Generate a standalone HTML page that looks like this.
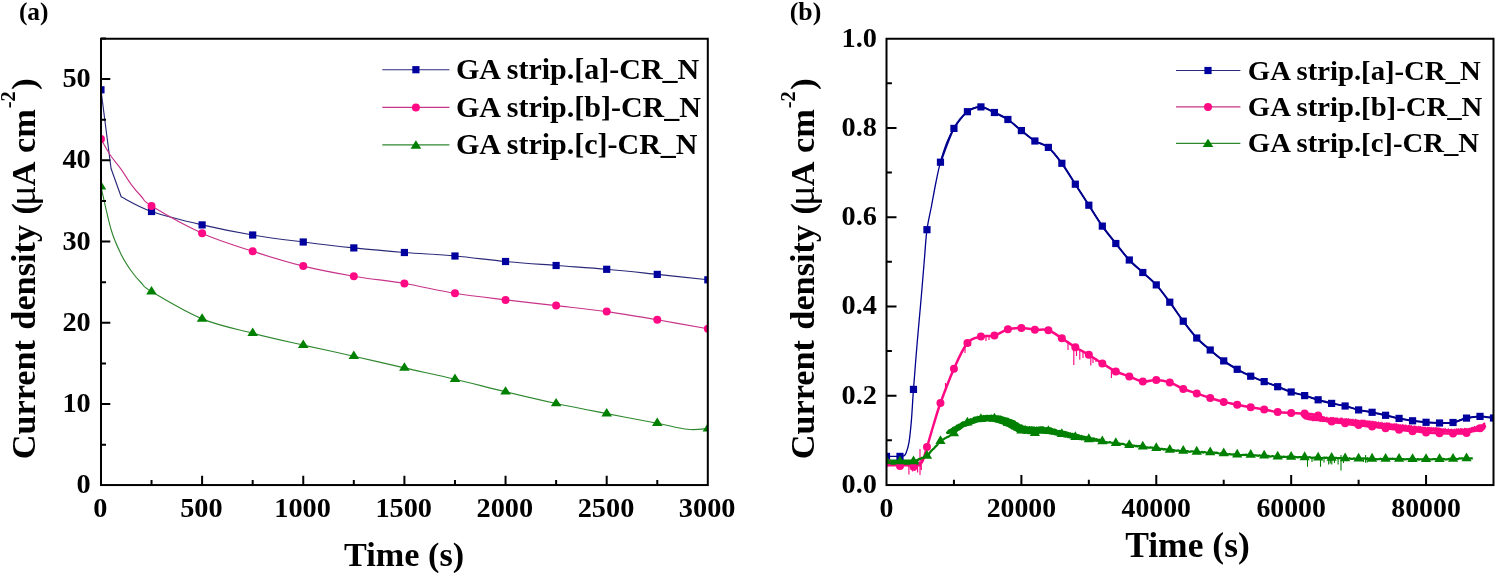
<!DOCTYPE html>
<html><head><meta charset="utf-8"><title>Current density vs time</title>
<style>html,body{margin:0;padding:0;background:#fff;}body{width:1496px;height:573px;overflow:hidden;}svg{display:block;will-change:transform;}text{font-family:"Liberation Serif",serif;font-weight:bold;fill:#000;}</style>
</head><body>
<svg width="1496" height="573" viewBox="0 0 1496 573">
<rect width="1496" height="573" fill="#fff"/>
<defs>
<clipPath id="ca"><rect x="101" y="38.75" width="606.8" height="446.3"/></clipPath>
<clipPath id="cb"><rect x="886.5" y="38.75" width="607" height="446.3"/></clipPath>
</defs>
<g clip-path="url(#ca)">
<path d="M100.95,89.8L111.06,168.5L121.18,196.8C126.24,199.25 138.04,206.82 151.53,211.5C165.01,216.18 185.24,220.98 202.1,224.9C218.96,228.82 235.82,232.15 252.68,235C269.53,237.85 286.39,239.85 303.25,242C320.11,244.15 336.97,246.15 353.82,247.9C370.68,249.65 387.54,251.15 404.4,252.5C421.26,253.85 438.12,254.5 454.97,256C471.83,257.5 488.69,259.92 505.55,261.5C522.41,263.08 539.27,264.2 556.12,265.5C572.98,266.8 589.84,267.82 606.7,269.3C623.56,270.78 640.42,272.65 657.28,274.4C674.13,276.15 699.42,278.9 707.85,279.8" fill="none" stroke="#2a2a7a" stroke-width="1.15"/>
<path d="M100.95,138.9C102.47,141.55 106.68,149.73 110.05,154.8C113.43,159.87 117.64,164.33 121.18,169.3C124.72,174.27 127.92,180.07 131.3,184.6C134.67,189.13 138.04,192.93 141.41,196.5C144.78,200.07 141.41,199.88 151.53,206C161.64,212.12 185.24,225.65 202.1,233.2C218.96,240.75 235.82,245.82 252.68,251.3C269.53,256.78 286.39,261.95 303.25,266.1C320.11,270.25 336.97,273.3 353.82,276.2C370.68,279.1 387.54,280.65 404.4,283.5C421.26,286.35 438.12,290.57 454.97,293.3C471.83,296.03 488.69,297.85 505.55,299.9C522.41,301.95 539.27,303.65 556.12,305.6C572.98,307.55 589.84,309.23 606.7,311.6C623.56,313.97 640.42,316.93 657.28,319.8C674.13,322.67 699.42,327.3 707.85,328.8" fill="none" stroke="#c8348a" stroke-width="1.15"/>
<path d="M100.95,186.6C102.64,193.75 107.69,218.18 111.06,229.5C114.44,240.82 117.81,247.58 121.18,254.5C124.55,261.42 127.92,266.25 131.3,271C134.67,275.75 138.04,279.55 141.41,283C144.78,286.45 141.41,285.72 151.53,291.7C161.64,297.68 185.24,311.98 202.1,318.9C218.96,325.82 235.82,328.83 252.68,333.2C269.53,337.57 286.39,341.27 303.25,345.1C320.11,348.93 336.97,352.4 353.82,356.2C370.68,360 387.54,364.07 404.4,367.9C421.26,371.73 438.12,375.22 454.97,379.2C471.83,383.18 488.69,387.75 505.55,391.8C522.41,395.85 539.27,399.87 556.12,403.5C572.98,407.13 589.84,410.32 606.7,413.6C623.56,416.88 643.79,420.58 657.28,423.2C670.76,425.82 679.19,428.4 687.62,429.3C696.05,430.2 704.48,428.72 707.85,428.6" fill="none" stroke="#2f882f" stroke-width="1.15"/>
<rect x="97.35" y="86.2" width="7.2" height="7.2" fill="#00009E"/>
<rect x="147.93" y="207.9" width="7.2" height="7.2" fill="#00009E"/>
<rect x="198.5" y="221.3" width="7.2" height="7.2" fill="#00009E"/>
<rect x="249.08" y="231.4" width="7.2" height="7.2" fill="#00009E"/>
<rect x="299.65" y="238.4" width="7.2" height="7.2" fill="#00009E"/>
<rect x="350.22" y="244.3" width="7.2" height="7.2" fill="#00009E"/>
<rect x="400.8" y="248.9" width="7.2" height="7.2" fill="#00009E"/>
<rect x="451.37" y="252.4" width="7.2" height="7.2" fill="#00009E"/>
<rect x="501.95" y="257.9" width="7.2" height="7.2" fill="#00009E"/>
<rect x="552.52" y="261.9" width="7.2" height="7.2" fill="#00009E"/>
<rect x="603.1" y="265.7" width="7.2" height="7.2" fill="#00009E"/>
<rect x="653.68" y="270.8" width="7.2" height="7.2" fill="#00009E"/>
<rect x="704.25" y="276.2" width="7.2" height="7.2" fill="#00009E"/>
<circle cx="100.95" cy="138.9" r="4" fill="#FF0A84"/>
<circle cx="151.53" cy="206" r="4" fill="#FF0A84"/>
<circle cx="202.1" cy="233.2" r="4" fill="#FF0A84"/>
<circle cx="252.68" cy="251.3" r="4" fill="#FF0A84"/>
<circle cx="303.25" cy="266.1" r="4" fill="#FF0A84"/>
<circle cx="353.82" cy="276.2" r="4" fill="#FF0A84"/>
<circle cx="404.4" cy="283.5" r="4" fill="#FF0A84"/>
<circle cx="454.97" cy="293.3" r="4" fill="#FF0A84"/>
<circle cx="505.55" cy="299.9" r="4" fill="#FF0A84"/>
<circle cx="556.12" cy="305.6" r="4" fill="#FF0A84"/>
<circle cx="606.7" cy="311.6" r="4" fill="#FF0A84"/>
<circle cx="657.28" cy="319.8" r="4" fill="#FF0A84"/>
<circle cx="707.85" cy="328.8" r="4" fill="#FF0A84"/>
<path d="M100.95,181 L106.25,189.4 L95.65,189.4 Z" fill="#008000"/>
<path d="M151.53,286.1 L156.83,294.5 L146.22,294.5 Z" fill="#008000"/>
<path d="M202.1,313.3 L207.4,321.7 L196.8,321.7 Z" fill="#008000"/>
<path d="M252.68,327.6 L257.98,336 L247.38,336 Z" fill="#008000"/>
<path d="M303.25,339.5 L308.55,347.9 L297.95,347.9 Z" fill="#008000"/>
<path d="M353.82,350.6 L359.12,359 L348.52,359 Z" fill="#008000"/>
<path d="M404.4,362.3 L409.7,370.7 L399.1,370.7 Z" fill="#008000"/>
<path d="M454.97,373.6 L460.27,382 L449.67,382 Z" fill="#008000"/>
<path d="M505.55,386.2 L510.85,394.6 L500.25,394.6 Z" fill="#008000"/>
<path d="M556.12,397.9 L561.42,406.3 L550.83,406.3 Z" fill="#008000"/>
<path d="M606.7,408 L612,416.4 L601.4,416.4 Z" fill="#008000"/>
<path d="M657.28,417.6 L662.58,426 L651.98,426 Z" fill="#008000"/>
<path d="M707.85,423 L713.15,431.4 L702.55,431.4 Z" fill="#008000"/>
</g>
<rect x="101" y="38.75" width="606.8" height="446.3" fill="none" stroke="#000" stroke-width="2"/><path d="M202.1,485.05 v-9.3M303.25,485.05 v-9.3M404.4,485.05 v-9.3M505.55,485.05 v-9.3M606.7,485.05 v-9.3M151.53,485.05 v-5.0M252.68,485.05 v-5.0M353.82,485.05 v-5.0M454.97,485.05 v-5.0M556.12,485.05 v-5.0M657.28,485.05 v-5.0M101,404.05 h9.3M101,322.79 h9.3M101,241.54 h9.3M101,160.28 h9.3M101,79.03 h9.3M101,444.67 h5.0M101,363.42 h5.0M101,282.16 h5.0M101,200.91 h5.0M101,119.65 h5.0M101,38.4 h5.0" fill="none" stroke="#000" stroke-width="2"/>
<text x="90.7" y="493.3" font-size="28.3" text-anchor="end">0</text>
<text x="90.7" y="412.05" font-size="28.3" text-anchor="end">10</text>
<text x="90.7" y="330.79" font-size="28.3" text-anchor="end">20</text>
<text x="90.7" y="249.54" font-size="28.3" text-anchor="end">30</text>
<text x="90.7" y="168.28" font-size="28.3" text-anchor="end">40</text>
<text x="90.7" y="87.03" font-size="28.3" text-anchor="end">50</text>
<text x="100.25" y="516.6" font-size="28.3" text-anchor="middle">0</text>
<text x="201.4" y="516.6" font-size="28.3" text-anchor="middle">500</text>
<text x="302.55" y="516.6" font-size="28.3" text-anchor="middle">1000</text>
<text x="403.7" y="516.6" font-size="28.3" text-anchor="middle">1500</text>
<text x="504.85" y="516.6" font-size="28.3" text-anchor="middle">2000</text>
<text x="606" y="516.6" font-size="28.3" text-anchor="middle">2500</text>
<text x="707.15" y="516.6" font-size="28.3" text-anchor="middle">3000</text>
<text x="404.1" y="565.8" font-size="34.2" text-anchor="middle">Time (s)</text>
<text transform="translate(34.8,268.8) rotate(-90)" font-size="34.3" word-spacing="1.7" text-anchor="middle">Current density (<tspan font-weight="normal" font-size="38" dx="-2.5">μ</tspan><tspan dx="-0.9">A cm</tspan><tspan font-size="20.5" dy="-19.4" dx="0.9">-2</tspan><tspan dy="19.4" dx="1.6">)</tspan></text>
<text x="18.9" y="20.0" font-size="25.4">(a)</text>
<path d="M382.3,69.7 H449.4" stroke="#2a2a7a" stroke-width="1.15" fill="none"/><rect x="412.3" y="66.1" width="7.2" height="7.2" fill="#00009E"/><text transform="translate(455.9,79.2) scale(1,1)" font-size="30">GA strip.[a]-CR_N</text><path d="M382.3,107.4 H449.4" stroke="#c8348a" stroke-width="1.15" fill="none"/><circle cx="415.9" cy="107.4" r="4" fill="#FF0A84"/><text transform="translate(455.9,116.9) scale(1,1)" font-size="30">GA strip.[b]-CR_N</text><path d="M382.3,144.9 H449.4" stroke="#2f882f" stroke-width="1.15" fill="none"/><path d="M415.9,140.3 L421.2,148.7 L410.6,148.7 Z" fill="#008000"/><text transform="translate(455.9,154.4) scale(1,1)" font-size="30">GA strip.[c]-CR_N</text>
<g clip-path="url(#cb)">
<path d="M886.5,456.4C888.75,456.4 897.18,456.47 899.99,456.4C902.8,456.33 902.38,456.5 903.36,456C904.35,455.5 904.96,455.67 905.9,453.4C906.84,451.13 908.08,447.9 909,442.4C909.92,436.9 910.65,429.23 911.4,420.4C912.15,411.57 912.54,401.97 913.48,389.4C914.41,376.83 915.75,359.9 917,345C918.25,330.1 919.75,314.5 921,300C922.25,285.5 923.51,269.72 924.5,258C925.49,246.28 925.8,238.37 926.97,229.7C928.13,221.03 929.99,213.95 931.5,206C933.01,198.05 934.51,189.3 936,182C937.49,174.7 938.62,168.87 940.46,162.2C942.29,155.53 944.75,147.63 947,142C949.25,136.37 950.54,133.45 953.94,128.4C957.35,123.35 962.94,115.28 967.43,111.7C971.93,108.12 976.43,106.77 980.92,106.9C985.42,107.03 989.91,110.4 994.41,112.5C998.91,114.6 1003.4,116.48 1007.9,119.5C1012.4,122.52 1016.89,127.02 1021.39,130.6C1025.89,134.18 1030.38,138.2 1034.88,141C1039.37,143.8 1043.87,143.68 1048.37,147.4C1052.86,151.12 1057.36,157.17 1061.86,163.3C1066.35,169.43 1070.85,177.22 1075.34,184.2C1079.84,191.18 1084.34,198.22 1088.83,205.2C1093.33,212.18 1097.83,219.72 1102.32,226.1C1106.82,232.48 1111.31,237.85 1115.81,243.5C1120.31,249.15 1124.8,255.17 1129.3,260C1133.8,264.83 1138.29,268.35 1142.79,272.5C1147.29,276.65 1151.78,279.95 1156.28,284.9C1160.77,289.85 1165.27,296.15 1169.77,302.2C1174.26,308.25 1178.76,315.23 1183.26,321.2C1187.75,327.17 1192.25,333.2 1196.74,338C1201.24,342.8 1205.74,346.18 1210.23,350C1214.73,353.82 1219.23,357.68 1223.72,360.9C1228.22,364.12 1232.71,366.75 1237.21,369.3C1241.71,371.85 1246.2,374.15 1250.7,376.2C1255.2,378.25 1259.69,379.85 1264.19,381.6C1268.69,383.35 1273.18,384.97 1277.68,386.7C1282.17,388.43 1286.67,390.52 1291.17,392C1295.66,393.48 1300.16,394.3 1304.66,395.6C1309.15,396.9 1313.65,398.5 1318.14,399.8C1322.64,401.1 1327.14,402.37 1331.63,403.4C1336.13,404.43 1340.63,404.92 1345.12,406C1349.62,407.08 1354.11,408.85 1358.61,409.9C1363.11,410.95 1367.6,411.4 1372.1,412.3C1376.6,413.2 1381.09,414.28 1385.59,415.3C1390.09,416.32 1394.58,417.48 1399.08,418.4C1403.57,419.32 1408.07,420.15 1412.57,420.8C1417.06,421.45 1421.56,421.93 1426.06,422.3C1430.55,422.67 1435.05,422.97 1439.54,423C1444.04,423.03 1448.54,423.32 1453.03,422.5C1457.53,421.68 1462.03,419.12 1466.52,418.1C1471.02,417.08 1475.51,416.42 1480.01,416.4C1484.51,416.38 1491.25,417.73 1493.5,418" fill="none" stroke="#00008C" stroke-width="1.3"/>
<path d="M940.46,162.2C942.7,156.57 949.45,136.82 953.94,128.4C958.44,119.98 962.94,115.28 967.43,111.7C971.93,108.12 976.43,106.77 980.92,106.9C985.42,107.03 989.91,110.4 994.41,112.5C998.91,114.6 1003.4,116.48 1007.9,119.5C1012.4,122.52 1016.89,127.02 1021.39,130.6C1025.89,134.18 1030.38,138.2 1034.88,141C1039.37,143.8 1043.87,143.68 1048.37,147.4C1052.86,151.12 1057.36,157.17 1061.86,163.3C1066.35,169.43 1070.85,177.22 1075.34,184.2C1079.84,191.18 1084.34,198.22 1088.83,205.2C1093.33,212.18 1097.83,219.72 1102.32,226.1C1106.82,232.48 1111.31,237.85 1115.81,243.5C1120.31,249.15 1124.8,255.17 1129.3,260C1133.8,264.83 1138.29,268.35 1142.79,272.5C1147.29,276.65 1151.78,279.95 1156.28,284.9C1160.77,289.85 1165.27,296.15 1169.77,302.2C1174.26,308.25 1178.76,315.23 1183.26,321.2C1187.75,327.17 1192.25,333.2 1196.74,338C1201.24,342.8 1205.74,346.18 1210.23,350C1214.73,353.82 1219.23,357.68 1223.72,360.9C1228.22,364.12 1232.71,366.75 1237.21,369.3C1241.71,371.85 1246.2,374.15 1250.7,376.2C1255.2,378.25 1259.69,379.85 1264.19,381.6C1268.69,383.35 1273.18,384.97 1277.68,386.7C1282.17,388.43 1286.67,390.52 1291.17,392C1295.66,393.48 1300.16,394.3 1304.66,395.6C1309.15,396.9 1313.65,398.5 1318.14,399.8C1322.64,401.1 1327.14,402.37 1331.63,403.4C1336.13,404.43 1340.63,404.92 1345.12,406C1349.62,407.08 1354.11,408.85 1358.61,409.9C1363.11,410.95 1367.6,411.4 1372.1,412.3C1376.6,413.2 1381.09,414.28 1385.59,415.3C1390.09,416.32 1394.58,417.48 1399.08,418.4C1403.57,419.32 1408.07,420.15 1412.57,420.8C1417.06,421.45 1421.56,421.93 1426.06,422.3C1430.55,422.67 1435.05,422.97 1439.54,423C1444.04,423.03 1448.54,423.32 1453.03,422.5C1457.53,421.68 1462.03,419.12 1466.52,418.1C1471.02,417.08 1475.51,416.42 1480.01,416.4C1484.51,416.38 1491.25,417.73 1493.5,418" fill="none" stroke="#00008C" stroke-width="2.0"/>
<path d="M886.5,464.4C888.75,464.47 895.49,464.73 899.99,464.8C904.49,464.87 909.88,465.13 913.48,464.8C917.08,464.47 919.35,465.75 921.6,462.8C923.85,459.85 924.98,453.4 926.97,447.1C928.95,440.8 931.25,432.35 933.5,425C935.75,417.65 937.05,412.38 940.46,403C943.86,393.62 949.45,378.72 953.94,368.7C958.44,358.68 962.94,348.25 967.43,342.9C971.93,337.55 976.43,337.82 980.92,336.6C985.42,335.38 989.91,336.82 994.41,335.6C998.91,334.38 1003.4,330.58 1007.9,329.3C1012.4,328.02 1016.89,327.83 1021.39,327.9C1025.89,327.97 1030.38,329.32 1034.88,329.7C1039.37,330.08 1043.87,328.77 1048.37,330.2C1052.86,331.63 1057.36,335.47 1061.86,338.3C1066.35,341.13 1070.85,344.47 1075.34,347.2C1079.84,349.93 1084.34,352 1088.83,354.7C1093.33,357.4 1097.83,360.62 1102.32,363.4C1106.82,366.18 1111.31,369.22 1115.81,371.4C1120.31,373.58 1124.8,374.8 1129.3,376.5C1133.8,378.2 1138.29,381.02 1142.79,381.6C1147.29,382.18 1151.78,379.87 1156.28,380C1160.77,380.13 1165.27,380.9 1169.77,382.4C1174.26,383.9 1178.76,387.17 1183.26,389C1187.75,390.83 1192.25,391.9 1196.74,393.4C1201.24,394.9 1205.74,396.58 1210.23,398C1214.73,399.42 1219.23,400.78 1223.72,401.9C1228.22,403.02 1232.71,403.82 1237.21,404.7C1241.71,405.58 1246.2,406.4 1250.7,407.2C1255.2,408 1259.69,408.68 1264.19,409.5C1268.69,410.32 1273.18,411.52 1277.68,412.1C1282.17,412.68 1286.67,412.75 1291.17,413C1295.66,413.25 1300.16,413.18 1304.66,413.6C1309.15,414.02 1313.65,414.18 1318.14,415.5C1322.64,416.82 1327.14,420.22 1331.63,421.5C1336.13,422.78 1340.63,422.62 1345.12,423.2C1349.62,423.78 1354.11,424.43 1358.61,425C1363.11,425.57 1367.6,426.05 1372.1,426.6C1376.6,427.15 1381.09,427.77 1385.59,428.3C1390.09,428.83 1394.58,429.32 1399.08,429.8C1403.57,430.28 1408.07,430.77 1412.57,431.2C1417.06,431.63 1421.56,432.07 1426.06,432.4C1430.55,432.73 1435.05,433 1439.54,433.2C1444.04,433.4 1448.54,433.63 1453.03,433.6C1457.53,433.57 1462.03,433.88 1466.52,433C1471.02,432.12 1476.76,429.47 1480.01,428.3C1483.26,427.13 1485,426.38 1486,426" fill="none" stroke="#FF0A84" stroke-width="2.5" stroke-linejoin="round"/>
<path d="M886.5,464.3 H921" stroke="#FF0A84" stroke-width="4.6" fill="none"/>
<path d="M1300.6,412.96L1301.3,412.44L1302,412.92L1302.7,413.23L1303.4,413.05L1304.1,413.55L1304.8,414.25L1305.5,413.79L1306.2,414.13L1306.9,413.75L1307.6,413.97L1308.3,415.1L1309,414.54L1309.7,415.36L1310.4,414.48L1311.1,415.53L1311.8,415.12L1312.5,415.15L1313.2,414.7L1313.9,415.33L1314.6,415.71L1315.3,416.08L1316,414.97L1316.7,415.72L1317.4,415.56L1318.1,415.72L1318.8,416.51L1319.5,416.46L1320.2,415.65L1320.9,416.55L1321.6,416.03L1322.3,416.25L1323,416.6L1323.7,416.45L1324.4,415.99L1325.1,417.16L1325.8,417.38L1326.5,416.51L1327.2,416.48L1327.9,417.63L1328.6,417.5L1329.3,417.72L1330,417.28L1330.7,416.65L1331.4,417.29L1332.1,417.62L1332.8,416.84L1333.5,417.01L1334.2,417.36L1334.9,417.97L1335.6,417.35L1336.3,417.46L1337,417.64L1337.7,417.37L1338.4,418.46L1339.1,417.55L1339.8,418.69L1340.5,417.55L1341.2,417.53L1341.9,417.58L1342.6,417.87L1343.3,418.8L1344,418.19L1344.7,418.4L1345.4,418.19L1346.1,418.16L1346.8,418L1347.5,418.76L1348.2,418.23L1348.9,418.33L1349.6,418.66L1350.3,419.27L1351,418.17L1351.7,419.18L1352.4,418.91L1353.1,418.3L1353.8,419.65L1354.5,419.6L1355.2,418.8L1355.9,418.72L1356.6,419.51L1357.3,419.62L1358,419.73L1358.7,419.5L1359.4,419.9L1360.1,420.18L1360.8,419.4L1361.5,419.4L1362.2,420.11L1362.9,419.32L1363.6,420.12L1364.3,419.69L1365,419.48L1365.7,420.19L1366.4,420.53L1367.1,420.38L1367.8,420.14L1368.5,420.86L1369.2,419.99L1369.9,420.98L1370.6,420.48L1371.3,421.5L1372,420.33L1372.7,420.96L1373.4,420.73L1374.1,421.57L1374.8,420.9L1375.5,421.13L1376.2,421.1L1376.9,421.93L1377.6,422.28L1378.3,421.29L1379,421.69L1379.7,422.52L1380.4,421.82L1381.1,422.72L1381.8,421.51L1382.5,422.07L1383.2,422.84L1383.9,423.08L1384.6,422.23L1385.3,423.16L1386,421.97L1386.7,422.54L1387.4,422.56L1388.1,422.18L1388.8,422.75L1389.5,422.51L1390.2,422.71L1390.9,423.65L1391.6,423.18L1392.3,423.31L1393,424.01L1393.7,423.31L1394.4,422.92L1395.1,424.09L1395.8,423.08L1396.5,423.19L1397.2,423.54L1397.9,424.51L1398.6,423.71L1399.3,424.27L1400,424.49L1400.7,423.94L1401.4,424.69L1402.1,424.6L1402.8,423.82L1403.5,424.53L1404.2,425.27L1404.9,424.36L1405.6,424.78L1406.3,424.42L1407,425.27L1407.7,425.4L1408.4,424.85L1409.1,424.97L1409.8,424.65L1410.5,425.67L1411.2,424.79L1411.9,425.54L1412.6,426.22L1413.3,426.31L1414,425.12L1414.7,425.77L1415.4,425.78L1416.1,425.81L1416.8,426.25L1417.5,426.56L1418.2,425.62L1418.9,425.94L1419.6,426.13L1420.3,425.96L1421,426.1L1421.7,427.06L1422.4,426.33L1423.1,427.32L1423.8,426.31L1424.5,426.95L1425.2,426.23L1425.9,427.29L1426.6,427.48L1427.3,426.66L1428,426.57L1428.7,427.17L1429.4,426.93L1430.1,427.09L1430.8,427.61L1431.5,426.72L1432.2,427.49L1432.9,427.2L1433.6,427.02L1434.3,427.63L1435,427.12L1435.7,427.35L1436.4,427.21L1437.1,427.28L1437.8,427.82L1438.5,427.25L1439.2,427.93L1439.9,427.34L1440.6,428.24L1441.3,427.72L1442,428.71L1442.7,428.22L1443.4,428.06L1444.1,428.93L1444.8,427.86L1445.5,427.93L1446.2,428.96L1446.9,428.9L1447.6,429.04L1448.3,428.08L1449,428.68L1449.7,429.24L1450.4,428.89L1451.1,428.78L1451.8,428.52L1452.5,429.47L1453.2,428.87L1453.9,429.5L1454.6,428.29L1455.3,429.44L1456,428.11L1456.7,428.54L1457.4,428.83L1458.1,428.15L1458.8,428.21L1459.5,429.04L1460.2,428.08L1460.9,428.35L1461.6,428.29L1462.3,428.06L1463,428.94L1463.7,428.43L1464.4,427.66L1465.1,427.74L1465.8,428.31L1466.5,427.93L1467.2,428.28L1467.9,428.35L1468.6,427.99L1469.3,428.07L1470,427.37L1470.7,427.96L1471.4,426.95L1472.1,426.68L1472.8,426.96L1473.5,426.81L1474.2,426.08L1474.9,425.97L1475.6,426.77L1476.3,425.59L1477,425.87L1477.7,425.36L1478.4,426.31L1479.1,425.74L1479.8,425.66L1480.5,425.31L1481.2,423.89L1481.9,424.64L1482.6,423.51L1483.3,422.93L1484,422.78L1484.7,422.31L1485.4,423.12L1485.4,429.09L1484.7,429.58L1484,430.04L1483.3,430.28L1482.6,430.39L1481.9,430.17L1481.2,430.8L1480.5,431.06L1479.8,431L1479.1,431.01L1478.4,431.53L1477.7,431.76L1477,431.93L1476.3,431.77L1475.6,431.89L1474.9,432.13L1474.2,432.18L1473.5,432.22L1472.8,432.08L1472.1,432.21L1471.4,432.53L1470.7,432.63L1470,432.92L1469.3,432.87L1468.6,432.7L1467.9,432.97L1467.2,432.96L1466.5,432.95L1465.8,433.08L1465.1,433.06L1464.4,433.2L1463.7,433.15L1463,432.72L1462.3,433.13L1461.6,432.77L1460.9,433.01L1460.2,432.83L1459.5,433.2L1458.8,432.94L1458.1,433.17L1457.4,433.19L1456.7,433.24L1456,433.26L1455.3,432.99L1454.6,433.27L1453.9,432.82L1453.2,433.18L1452.5,432.75L1451.8,432.96L1451.1,432.7L1450.4,432.8L1449.7,432.6L1449,432.89L1448.3,432.48L1447.6,432.71L1446.9,432.64L1446.2,432.62L1445.5,432.33L1444.8,432.73L1444.1,432.47L1443.4,432.74L1442.7,432.4L1442,432.34L1441.3,432.3L1440.6,432.32L1439.9,432.14L1439.2,432.39L1438.5,432.21L1437.8,431.97L1437.1,432.38L1436.4,432.05L1435.7,432.24L1435,431.8L1434.3,432.15L1433.6,431.87L1432.9,431.77L1432.2,431.78L1431.5,431.97L1430.8,432.15L1430.1,431.7L1429.4,432.03L1428.7,432.03L1428,432.02L1427.3,431.47L1426.6,431.39L1425.9,431.83L1425.2,431.58L1424.5,431.85L1423.8,431.71L1423.1,431.49L1422.4,431.39L1421.7,431.46L1421,431.17L1420.3,431.17L1419.6,431.42L1418.9,431.27L1418.2,431.39L1417.5,431.24L1416.8,431.24L1416.1,431.12L1415.4,430.84L1414.7,431.08L1414,430.66L1413.3,430.72L1412.6,431.04L1411.9,430.66L1411.2,430.44L1410.5,430.52L1409.8,430.44L1409.1,430.75L1408.4,430.42L1407.7,430.55L1407,430.63L1406.3,430.57L1405.6,430.6L1404.9,430.25L1404.2,430.18L1403.5,430.48L1402.8,430L1402.1,430.38L1401.4,430.31L1400.7,429.72L1400,429.86L1399.3,429.78L1398.6,430.15L1397.9,429.73L1397.2,429.93L1396.5,429.99L1395.8,429.41L1395.1,429.8L1394.4,429.54L1393.7,429.79L1393,429.32L1392.3,429.38L1391.6,429.14L1390.9,429.55L1390.2,429.23L1389.5,429.54L1388.8,429.47L1388.1,429.01L1387.4,428.89L1386.7,428.95L1386,429.07L1385.3,429.06L1384.6,428.67L1383.9,429.06L1383.2,428.88L1382.5,428.92L1381.8,428.36L1381.1,428.35L1380.4,428.34L1379.7,428.24L1379,428.49L1378.3,428.17L1377.6,428.27L1376.9,428.1L1376.2,427.99L1375.5,428.3L1374.8,428.33L1374.1,427.99L1373.4,428.11L1372.7,427.98L1372,427.72L1371.3,427.59L1370.6,427.8L1369.9,427.59L1369.2,427.58L1368.5,427.41L1367.8,427.74L1367.1,427.25L1366.4,427.58L1365.7,427.57L1365,427.12L1364.3,427.24L1363.6,427.05L1362.9,427.08L1362.2,426.77L1361.5,427.03L1360.8,426.67L1360.1,426.92L1359.4,426.61L1358.7,426.44L1358,426.61L1357.3,426.62L1356.6,426.7L1355.9,426.35L1355.2,426.01L1354.5,426.43L1353.8,426.24L1353.1,425.89L1352.4,425.91L1351.7,426L1351,425.38L1350.3,425.79L1349.6,425.74L1348.9,425.31L1348.2,425.14L1347.5,425.39L1346.8,425.08L1346.1,425.26L1345.4,424.62L1344.7,424.71L1344,424.64L1343.3,424.74L1342.6,424.54L1341.9,424.24L1341.2,424.21L1340.5,424.02L1339.8,424.08L1339.1,424.26L1338.4,423.91L1337.7,423.64L1337,423.52L1336.3,423.66L1335.6,423.62L1334.9,423.72L1334.2,423.21L1333.5,423.22L1332.8,423.39L1332.1,422.91L1331.4,423.11L1330.7,423.02L1330,422.93L1329.3,422.98L1328.6,422.72L1327.9,422.79L1327.2,422.41L1326.5,422.41L1325.8,422.17L1325.1,422.12L1324.4,421.93L1323.7,421.95L1323,421.92L1322.3,422.23L1321.6,421.77L1320.9,422.01L1320.2,421.95L1319.5,421.82L1318.8,421.23L1318.1,421.35L1317.4,421.18L1316.7,421.3L1316,420.97L1315.3,421.19L1314.6,420.97L1313.9,421.3L1313.2,421.19L1312.5,421.21L1311.8,420.65L1311.1,420.63L1310.4,420.56L1309.7,420.59L1309,420.63L1308.3,419.96L1307.6,420.35L1306.9,420.11L1306.2,419.67L1305.5,419.51L1304.8,419.42L1304.1,419.24L1303.4,418.5L1302.7,417.99L1302,417.28L1301.3,416.11L1300.6,415.59 Z" fill="#FF0A84"/>
<path d="M908.9,465 V474.6M912.7,466 V471.5M914.8,466 V471M917.6,466 V472.5M920,449 V474.9M921.3,458 V470M1068,343 V350M1073.8,346 V365M1076.5,348 V356M1079.8,350 V359.7M1083,352 V358M1090.8,356 V365.5M1093,357 V363M1096,358 V362M1111.4,369 V378M945.5,383 V392M965,347 V353M970.5,340 V346M986,336 V341M989,336 V340" stroke="#FF0A84" stroke-width="1.15" fill="none"/>
<path d="M886.5,460.99L887.6,461.23L888.7,461.09L889.8,460.86L890.9,461.01L892,461.02L893.1,461.74L894.2,461.53L895.3,461.75L896.4,461.12L897.5,461.7L898.6,461.12L899.7,461.52L900.8,461.62L901.9,461.37L903,461.84L904.1,461.55L905.2,461.57L906.3,461.84L907.4,461.14L908.5,461.94L909.6,461.62L910.7,461.4L911.8,461.77L912.9,461.29L914,461.73L915.1,460.92L916.2,460.28L917.3,460.21L918.4,459.48L919.5,458.8L920.6,458.87L921.7,457.8L922.8,458.06L923.9,457.11L925,457.01L926.1,456.88L927.2,455.92L928.3,454.77L929.4,453.24L930.5,451.75L931.6,450.56L932.7,449.45L933.8,448.66L934.9,447.28L936,446.13L937.1,445.26L938.2,443.36L939.3,442.23L940.4,441.4L941.5,440.17L942.6,439.51L943.7,439.19L944.8,438.33L945.9,437.92L947,437.17L948.1,436.85L949.2,436.22L950.3,435.24L951.4,434.98L952.5,434.21L953.6,433.27L954.7,433.19L955.8,431.7L956.9,430.74L958,429.82L959.1,429.43L960.2,428.77L961.3,427.82L962.4,426.6L963.5,425.61L964.6,424.51L965.7,424.21L966.8,423.26L967.9,422.44L969,422.42L970.1,421.96L971.2,422.12L972.3,421.65L973.4,420.93L974.5,421.23L975.6,420.17L976.7,420.32L977.8,419.93L978.9,419.49L980,419.04L981.1,419.44L982.2,418.71L983.3,419.16L984.4,419.47L985.5,418.71L986.6,418.72L987.7,419.05L988.8,418.91L989.9,418.99L991,419.11L992.1,418.49L993.2,418.57L994.3,418.52L995.4,418.62L996.5,419.75L997.6,420.02L998.7,420.32L999.8,420.05L1000.9,421.17L1002,421.45L1003.1,421.57L1004.2,422.18L1005.3,422.29L1006.4,422.45L1007.5,422.71L1008.6,423.35L1009.7,423.79L1010.8,424.66L1011.9,425.65L1013,426.21L1014.1,426.96L1015.2,427.45L1016.3,427.66L1017.4,428.53L1018.5,429.04L1019.6,429.96L1020.7,430.34L1021.8,430.56L1022.9,431.11L1024,431.6L1025.1,431.13L1026.2,431.93L1027.3,431.36L1028.4,431.78L1029.5,431.97L1030.6,432.63L1031.7,433.01L1032.8,433.04L1033.9,432.86L1035,433.52L1036.1,432.86L1037.2,432.62L1038.3,433.06L1039.4,432.65L1040.5,432.54L1041.6,432.35L1042.7,432.47L1043.8,431.85L1044.9,432.02L1046,431.73L1047.1,431.71L1048.2,431.17L1049.3,431.61L1050.4,431.72L1051.5,431.72L1052.6,431.88L1053.7,432.5L1054.8,432.25L1055.9,433.25L1057,432.8L1058.1,432.94L1059.2,433.26L1060.3,434.24L1061.4,433.96L1062.5,434.02L1063.6,434.16L1064.7,434.42L1065.8,435.25L1066.9,435.44L1068,435.74L1069.1,436.02L1070.2,435.67L1071.3,436.38L1072.4,436.42L1073.5,437.08L1074.6,437.32L1075.7,437.61L1076.8,437.05L1077.9,437.95L1079,438.17L1080.1,438.38L1081.2,437.8L1082.3,438.07L1083.4,438.16L1084.5,438.27L1085.6,439.19L1086.7,439.33L1087.8,439.35L1088.9,439.7L1090,439.71L1091.1,439.58L1092.2,439.59L1093.3,439.77L1094.4,440.54L1095.5,440.22L1096.6,440.5L1097.7,440.78L1098.8,440.59L1099.9,440.99L1101,441.19L1102.1,441.76L1103.2,441.59L1104.3,441.69L1105.4,442.41L1106.5,442.13L1107.6,442.58L1108.7,442.51L1109.8,442.12L1110.9,442.6L1112,442.76L1113.1,443.2L1114.2,442.96L1115.3,443.42L1116.4,443.42L1117.5,443.28L1118.6,444.02L1119.7,443.48L1120.8,444.29L1121.9,443.86L1123,443.86L1124.1,444.2L1125.2,444.86L1126.3,445.21L1127.4,444.49L1128.5,445.08L1129.6,445.23L1130.7,445.62L1131.8,445.19L1132.9,445.6L1134,445.59L1135.1,446.14L1136.2,445.75L1137.3,446.49L1138.4,446.02L1139.5,446.08L1140.6,446.64L1141.7,446.58L1142.8,446.35L1143.9,446.95L1145,446.57L1146.1,447.33L1147.2,447.37L1148.3,447.57L1149.4,447.55L1150.5,447.43L1151.6,447.59L1152.7,447.71L1153.8,448.28L1154.9,447.67L1156,448.52L1157.1,447.88L1158.2,448.19L1159.3,448.39L1160.4,449.11L1161.5,448.9L1162.6,448.94L1163.7,449.54L1164.8,449.1L1165.9,449.45L1167,449.66L1168.1,450.01L1169.2,450.15L1170.3,450.18L1171.4,450L1172.5,450.07L1173.6,450L1174.7,450.71L1175.8,450.64L1176.9,450.8L1178,450.37L1179.1,450.71L1180.2,451.1L1181.3,451.01L1182.4,450.69L1183.5,451.08L1184.6,451.53L1185.7,451.01L1186.8,451.03L1187.9,451.2L1189,451.62L1190.1,451.82L1191.2,451.26L1192.3,451.33L1193.4,451.47L1194.5,451.61L1195.6,451.85L1196.7,451.59L1197.8,451.8L1198.9,451.73L1200,452.5L1201.1,452.33L1202.2,451.82L1203.3,452.66L1204.4,451.94L1205.5,452.25L1206.6,452.85L1207.7,452.73L1208.8,452.74L1209.9,452.52L1211,452.38L1212.1,452.86L1213.2,452.47L1214.3,452.64L1215.4,452.88L1216.5,452.65L1217.6,453.06L1218.7,453.49L1219.8,453.48L1220.9,453.39L1222,453.59L1223.1,453.52L1224.2,453.32L1225.3,453.83L1226.4,453.75L1227.5,454.15L1228.6,454.4L1229.7,454.07L1230.8,454.3L1231.9,454.55L1233,454.35L1234.1,454.28L1235.2,454.82L1236.3,455.06L1237.4,455.05L1238.5,455.01L1239.6,455.17L1240.7,455.04L1241.8,455.03L1242.9,454.89L1244,454.78L1245.1,455.09L1246.2,454.64L1247.3,454.95L1248.4,455.3L1249.5,455.27L1250.6,455.21L1251.7,454.93L1252.8,455.14L1253.9,455.23L1255,455.43L1256.1,455.3L1257.2,455.6L1258.3,455.88L1259.4,455.27L1260.5,455.75L1261.6,455.92L1262.7,455.62L1263.8,455.77L1264.9,456.27L1266,455.51L1267.1,456.03L1268.2,455.76L1269.3,456.39L1270.4,456.61L1271.5,456.31L1272.6,456L1273.7,456.5L1274.8,456.54L1275.9,456.78L1277,456.67L1278.1,456.83L1279.2,457.03L1280.3,456.78L1281.4,456.7L1282.5,457.21L1283.6,456.57L1284.7,457.02L1285.8,456.78L1286.9,457.14L1288,456.59L1289.1,457.39L1290.2,456.85L1291.3,456.6L1292.4,456.83L1293.5,456.98L1294.6,456.66L1295.7,457.06L1296.8,457.1L1297.9,457.38L1299,457.1L1300.1,457.05L1301.2,457.05L1302.3,457.55L1303.4,457.76L1304.5,457.42L1305.6,457.17L1306.7,457.72L1307.8,457.37L1308.9,457.24L1310,457.19L1311.1,457.79L1312.2,457.85L1313.3,457.71L1314.4,457.59L1315.5,457.7L1316.6,457.42L1317.7,458.11L1318.8,457.58L1319.9,457.86L1321,458.05L1322.1,458.07L1323.2,457.78L1324.3,457.65L1325.4,457.9L1326.5,457.55L1327.6,458.21L1328.7,457.8L1329.8,458.27L1330.9,457.77L1332,457.9L1333.1,457.83L1334.2,458.03L1335.3,457.85L1336.4,457.73L1337.5,458.42L1338.6,458.06L1339.7,458.07L1340.8,458.16L1341.9,458.36L1343,458.36L1344.1,458.59L1345.2,458.64L1346.3,458.39L1347.4,458.92L1348.5,458.87L1349.6,458.17L1350.7,458.88L1351.8,458.96L1352.9,458.87L1354,458.31L1355.1,458.95L1356.2,458.78L1357.3,458.24L1358.4,458.26L1359.5,459.12L1360.6,458.87L1361.7,458.52L1362.8,458.4L1363.9,458.46L1365,458.56L1366.1,459.06L1367.2,458.69L1368.3,458.53L1369.4,459.22L1370.5,459.14L1371.6,458.59L1372.7,459.26L1373.8,459.01L1374.9,459.17L1376,459.08L1377.1,459.29L1378.2,459.2L1379.3,459.26L1380.4,458.69L1381.5,459.14L1382.6,459.01L1383.7,459.2L1384.8,458.94L1385.9,459.35L1387,459.06L1388.1,458.81L1389.2,458.79L1390.3,458.71L1391.4,459.04L1392.5,458.65L1393.6,459.03L1394.7,458.75L1395.8,459.07L1396.9,459.08L1398,459.13L1399.1,459.43L1400.2,458.66L1401.3,459.42L1402.4,459.1L1403.5,459.19L1404.6,459.29L1405.7,459.46L1406.8,459.04L1407.9,459.09L1409,459.59L1410.1,458.8L1411.2,459.31L1412.3,459.32L1413.4,458.78L1414.5,459.31L1415.6,459.39L1416.7,459.62L1417.8,459.09L1418.9,459.68L1420,459.26L1421.1,459.25L1422.2,459.63L1423.3,458.86L1424.4,459.48L1425.5,459.41L1426.6,459.15L1427.7,459.61L1428.8,459.16L1429.9,459.25L1431,459.29L1432.1,459.5L1433.2,458.99L1434.3,459.18L1435.4,459.16L1436.5,459.27L1437.6,459.51L1438.7,459.02L1439.8,459.49L1440.9,459.09L1442,459.17L1443.1,458.94L1444.2,459.14L1445.3,459.54L1446.4,459.24L1447.5,459.34L1448.6,458.91L1449.7,458.88L1450.8,458.85L1451.9,459.09L1453,459.12L1454.1,459.22L1455.2,458.51L1456.3,459.08L1457.4,459.19L1458.5,458.84L1459.6,458.35L1460.7,458.54L1461.8,458.23L1462.9,458.36L1464,458.97L1465.1,458.65L1466.2,458.65L1467.3,458.72L1468.4,458.76L1469.5,458.43L1470.6,458.37L1471.7,458.32L1472.8,458.32" fill="none" stroke="#008000" stroke-width="2.2" stroke-linejoin="round"/>
<path d="M886.5,462.1 H918.5" stroke="#008000" stroke-width="5.2" fill="none"/>
<path d="M946,432.54L946.8,431.28L947.6,430.59L948.4,429.47L949.2,428.91L950,429.2L950.8,428.21L951.6,428.08L952.4,427.11L953.2,426.75L954,426.26L954.8,426.22L955.6,425.39L956.4,424.48L957.2,424.42L958,423.9L958.8,423.45L959.6,423.54L960.4,422.73L961.2,421.99L962,421.69L962.8,421.11L963.6,421.32L964.4,421.17L965.2,420.68L966,419.52L966.8,419.32L967.6,418.95L968.4,419.18L969.2,418.96L970,417.98L970.8,418.24L971.6,418.15L972.4,417.89L973.2,416.74L974,417.02L974.8,416.21L975.6,416.5L976.4,416.41L977.2,415.57L978,415.91L978.8,415.88L979.6,415.87L980.4,415.61L981.2,415.28L982,415.49L982.8,415.37L983.6,414.8L984.4,415.29L985.2,415.04L986,414.75L986.8,414.96L987.6,414.51L988.4,415.04L989.2,414.87L990,415.07L990.8,414.54L991.6,414.53L992.4,414.86L993.2,415.19L994,415.2L994.8,415.3L995.6,414.82L996.4,415.36L997.2,415.52L998,414.84L998.8,415.54L999.6,415.56L1000.4,415.28L1001.2,415.92L1002,415.72L1002.8,416.45L1003.6,416.42L1004.4,416.96L1005.2,416.68L1006,417.51L1006.8,417.48L1007.6,417.85L1008.4,417.8L1009.2,418.56L1010,418.75L1010.8,419.01L1011.6,418.89L1012.4,419.5L1013.2,420.04L1014,419.96L1014.8,420.59L1015.6,420.77L1016.4,422.11L1017.2,422.12L1018,422.39L1018.8,423L1019.6,423.77L1020.4,424.42L1021.2,424.05L1022,424.65L1022.8,424.76L1023.6,425.65L1024.4,425.87L1025.2,425.23L1026,425.68L1026.8,426.34L1027.6,426.13L1028.4,426.58L1029.2,426.11L1030,425.93L1030.8,426.72L1031.6,425.9L1032.4,426.21L1033.2,426.75L1034,426.01L1034.8,426.64L1035.6,426.9L1036.4,426.15L1037.2,426.88L1038,426.31L1038.8,426.74L1039.6,426.36L1040.4,426.19L1041.2,426.24L1042,426.23L1042.8,426.16L1043.6,426.37L1044.4,427.08L1045.2,427.13L1046,427.14L1046.8,426.79L1047.6,427.27L1048.4,427.05L1049.2,426.95L1050,427.3L1050.8,427.23L1051.6,427.38L1052.4,428.06L1053.2,428.57L1054,428.38L1054.8,428.49L1055.6,428.75L1056.4,429.09L1057.2,429.66L1058,429.93L1058.8,430.06L1059.6,429.64L1060.4,429.91L1061.2,430.03L1062,430.94L1062.8,431.08L1063.6,430.71L1064.4,430.69L1065.2,431.1L1066,431.05L1066.8,431.53L1067.6,431.43L1068.4,432.09L1069.2,432.21L1070,432.21L1070.8,432.33L1071.6,433.1L1072.4,432.77L1073.2,432.85L1074,433.39L1074.8,433.31L1075.6,433.94L1076.4,434.01L1077.2,433.72L1078,434.21L1078.8,434.07L1079.6,434.51L1080.4,435.16L1081.2,434.58L1082,435.17L1082.8,435.16L1083.6,435.85L1084.4,435.42L1085.2,435.97L1086,436.07L1086.8,436.24L1087.6,436.59L1088.4,436.89L1089.2,436.92L1090,437.12L1090.8,437.4L1091.6,437.23L1092.4,437.43L1093.2,437.14L1094,437.49L1094.8,437.55L1095.6,438.37L1096.4,437.89L1097.2,438.16L1098,438.7L1098.8,438.81L1099.6,438.6L1100.4,439.33L1101.2,438.97L1102,439.49L1102.8,439.33L1103.6,439.52L1104.4,440.34L1104.4,442.33L1103.6,442.52L1102.8,442.32L1102,442.17L1101.2,442.22L1100.4,441.87L1099.6,442.28L1098.8,442.1L1098,441.95L1097.2,441.53L1096.4,441.86L1095.6,441.38L1094.8,441.43L1094,441.32L1093.2,441.72L1092.4,441.39L1091.6,441.31L1090.8,441.5L1090,440.9L1089.2,441.02L1088.4,440.91L1087.6,441.14L1086.8,440.65L1086,440.78L1085.2,440.44L1084.4,440.59L1083.6,440.52L1082.8,440.29L1082,440.57L1081.2,440.47L1080.4,440.09L1079.6,440.18L1078.8,440.03L1078,439.85L1077.2,439.73L1076.4,439.29L1075.6,439.53L1074.8,439.28L1074,438.96L1073.2,439.03L1072.4,438.59L1071.6,438.84L1070.8,438.4L1070,438.51L1069.2,438.57L1068.4,437.97L1067.6,438.2L1066.8,437.62L1066,437.86L1065.2,437.8L1064.4,437.49L1063.6,437.43L1062.8,436.79L1062,437.17L1061.2,436.63L1060.4,436.4L1059.6,436.37L1058.8,436.33L1058,435.8L1057.2,435.67L1056.4,435.63L1055.6,435.38L1054.8,435.62L1054,435.04L1053.2,434.94L1052.4,434.7L1051.6,434.88L1050.8,434.41L1050,434.49L1049.2,434.44L1048.4,434.05L1047.6,434.18L1046.8,433.67L1046,433.63L1045.2,434.01L1044.4,433.56L1043.6,433.39L1042.8,433.74L1042,433.66L1041.2,433.33L1040.4,433.42L1039.6,433.29L1038.8,433.26L1038,433.62L1037.2,433.74L1036.4,433.86L1035.6,433.5L1034.8,433.93L1034,434.08L1033.2,434.17L1032.4,434.28L1031.6,433.96L1030.8,434.01L1030,434.45L1029.2,434.1L1028.4,434.19L1027.6,434.13L1026.8,433.86L1026,433.73L1025.2,433.98L1024.4,434.12L1023.6,433.81L1022.8,433.78L1022,433.27L1021.2,433.11L1020.4,432.92L1019.6,433.04L1018.8,432.89L1018,432.56L1017.2,432.21L1016.4,432.11L1015.6,431.19L1014.8,431.06L1014,430.68L1013.2,430.37L1012.4,429.54L1011.6,429.65L1010.8,428.71L1010,428.44L1009.2,428L1008.4,427.47L1007.6,427.05L1006.8,426.8L1006,426.62L1005.2,426.02L1004.4,425.71L1003.6,424.88L1002.8,424.88L1002,424.27L1001.2,424.16L1000.4,424L999.6,423.95L998.8,423.27L998,423.24L997.2,422.88L996.4,422.84L995.6,422.69L994.8,422.29L994,422.19L993.2,421.67L992.4,422.07L991.6,421.78L990.8,421.47L990,421.89L989.2,421.71L988.4,421.52L987.6,421.49L986.8,421.53L986,421.7L985.2,421.39L984.4,421.74L983.6,421.47L982.8,421.9L982,422.25L981.2,422.04L980.4,422.31L979.6,422.27L978.8,422.26L978,422.56L977.2,422.78L976.4,423.12L975.6,423.19L974.8,423.54L974,424.1L973.2,423.88L972.4,424.57L971.6,424.56L970.8,424.98L970,425.37L969.2,425.73L968.4,426.01L967.6,425.91L966.8,426.61L966,426.9L965.2,426.84L964.4,427.11L963.6,427.5L962.8,427.89L962,428.44L961.2,429.19L960.4,429.51L959.6,430.31L958.8,430.54L958,430.65L957.2,431.48L956.4,431.68L955.6,431.48L954.8,431.76L954,432.37L953.2,432.44L952.4,432.7L951.6,433.12L950.8,433.54L950,433.7L949.2,434.03L948.4,433.94L947.6,434.17L946.8,433.85L946,433.61 Z" fill="#008000"/>
<path d="M1307.5,458 V466.8M1320.5,458 V466.8M1328.7,458 V464.4M1330.3,458 V463.6M1331.8,458 V464.4M1334.5,458 V463M1338.1,458 V464.4M1341,455 V470.4M1343.5,458 V463M1365.6,455 V462.8M1363.5,458 V462M1367.2,457 V462.4M1312,458 V462M1324,458 V462.5" stroke="#008000" stroke-width="1.1" fill="none"/>
<rect x="882.9" y="452.8" width="7.2" height="7.2" fill="#00009E"/>
<rect x="896.39" y="452.8" width="7.2" height="7.2" fill="#00009E"/>
<rect x="909.88" y="385.8" width="7.2" height="7.2" fill="#00009E"/>
<rect x="923.37" y="226.1" width="7.2" height="7.2" fill="#00009E"/>
<rect x="936.86" y="158.6" width="7.2" height="7.2" fill="#00009E"/>
<rect x="950.34" y="124.8" width="7.2" height="7.2" fill="#00009E"/>
<rect x="963.83" y="108.1" width="7.2" height="7.2" fill="#00009E"/>
<rect x="977.32" y="103.3" width="7.2" height="7.2" fill="#00009E"/>
<rect x="990.81" y="108.9" width="7.2" height="7.2" fill="#00009E"/>
<rect x="1004.3" y="115.9" width="7.2" height="7.2" fill="#00009E"/>
<rect x="1017.79" y="127" width="7.2" height="7.2" fill="#00009E"/>
<rect x="1031.28" y="137.4" width="7.2" height="7.2" fill="#00009E"/>
<rect x="1044.77" y="143.8" width="7.2" height="7.2" fill="#00009E"/>
<rect x="1058.26" y="159.7" width="7.2" height="7.2" fill="#00009E"/>
<rect x="1071.74" y="180.6" width="7.2" height="7.2" fill="#00009E"/>
<rect x="1085.23" y="201.6" width="7.2" height="7.2" fill="#00009E"/>
<rect x="1098.72" y="222.5" width="7.2" height="7.2" fill="#00009E"/>
<rect x="1112.21" y="239.9" width="7.2" height="7.2" fill="#00009E"/>
<rect x="1125.7" y="256.4" width="7.2" height="7.2" fill="#00009E"/>
<rect x="1139.19" y="268.9" width="7.2" height="7.2" fill="#00009E"/>
<rect x="1152.68" y="281.3" width="7.2" height="7.2" fill="#00009E"/>
<rect x="1166.17" y="298.6" width="7.2" height="7.2" fill="#00009E"/>
<rect x="1179.66" y="317.6" width="7.2" height="7.2" fill="#00009E"/>
<rect x="1193.14" y="334.4" width="7.2" height="7.2" fill="#00009E"/>
<rect x="1206.63" y="346.4" width="7.2" height="7.2" fill="#00009E"/>
<rect x="1220.12" y="357.3" width="7.2" height="7.2" fill="#00009E"/>
<rect x="1233.61" y="365.7" width="7.2" height="7.2" fill="#00009E"/>
<rect x="1247.1" y="372.6" width="7.2" height="7.2" fill="#00009E"/>
<rect x="1260.59" y="378" width="7.2" height="7.2" fill="#00009E"/>
<rect x="1274.08" y="383.1" width="7.2" height="7.2" fill="#00009E"/>
<rect x="1287.57" y="388.4" width="7.2" height="7.2" fill="#00009E"/>
<rect x="1301.06" y="392" width="7.2" height="7.2" fill="#00009E"/>
<rect x="1314.54" y="396.2" width="7.2" height="7.2" fill="#00009E"/>
<rect x="1328.03" y="399.8" width="7.2" height="7.2" fill="#00009E"/>
<rect x="1341.52" y="402.4" width="7.2" height="7.2" fill="#00009E"/>
<rect x="1355.01" y="406.3" width="7.2" height="7.2" fill="#00009E"/>
<rect x="1368.5" y="408.7" width="7.2" height="7.2" fill="#00009E"/>
<rect x="1381.99" y="411.7" width="7.2" height="7.2" fill="#00009E"/>
<rect x="1395.48" y="414.8" width="7.2" height="7.2" fill="#00009E"/>
<rect x="1408.97" y="417.2" width="7.2" height="7.2" fill="#00009E"/>
<rect x="1422.46" y="418.7" width="7.2" height="7.2" fill="#00009E"/>
<rect x="1435.94" y="419.4" width="7.2" height="7.2" fill="#00009E"/>
<rect x="1449.43" y="418.9" width="7.2" height="7.2" fill="#00009E"/>
<rect x="1462.92" y="414.5" width="7.2" height="7.2" fill="#00009E"/>
<rect x="1476.41" y="412.8" width="7.2" height="7.2" fill="#00009E"/>
<rect x="1489.9" y="414.4" width="7.2" height="7.2" fill="#00009E"/>
<circle cx="886.5" cy="462.6" r="4" fill="#FF0A84"/>
<circle cx="899.99" cy="466" r="4" fill="#FF0A84"/>
<circle cx="913.48" cy="466.7" r="4" fill="#FF0A84"/>
<circle cx="926.97" cy="447.1" r="4" fill="#FF0A84"/>
<circle cx="940.46" cy="403" r="4" fill="#FF0A84"/>
<circle cx="953.94" cy="368.7" r="4" fill="#FF0A84"/>
<circle cx="967.43" cy="342.9" r="4" fill="#FF0A84"/>
<circle cx="980.92" cy="336.6" r="4" fill="#FF0A84"/>
<circle cx="994.41" cy="335.6" r="4" fill="#FF0A84"/>
<circle cx="1007.9" cy="329.3" r="4" fill="#FF0A84"/>
<circle cx="1021.39" cy="327.9" r="4" fill="#FF0A84"/>
<circle cx="1034.88" cy="329.7" r="4" fill="#FF0A84"/>
<circle cx="1048.37" cy="330.2" r="4" fill="#FF0A84"/>
<circle cx="1061.86" cy="338.3" r="4" fill="#FF0A84"/>
<circle cx="1075.34" cy="347.2" r="4" fill="#FF0A84"/>
<circle cx="1088.83" cy="354.7" r="4" fill="#FF0A84"/>
<circle cx="1102.32" cy="363.4" r="4" fill="#FF0A84"/>
<circle cx="1115.81" cy="371.4" r="4" fill="#FF0A84"/>
<circle cx="1129.3" cy="376.5" r="4" fill="#FF0A84"/>
<circle cx="1142.79" cy="381.6" r="4" fill="#FF0A84"/>
<circle cx="1156.28" cy="380" r="4" fill="#FF0A84"/>
<circle cx="1169.77" cy="382.4" r="4" fill="#FF0A84"/>
<circle cx="1183.26" cy="389" r="4" fill="#FF0A84"/>
<circle cx="1196.74" cy="393.4" r="4" fill="#FF0A84"/>
<circle cx="1210.23" cy="398" r="4" fill="#FF0A84"/>
<circle cx="1223.72" cy="401.9" r="4" fill="#FF0A84"/>
<circle cx="1237.21" cy="404.7" r="4" fill="#FF0A84"/>
<circle cx="1250.7" cy="407.2" r="4" fill="#FF0A84"/>
<circle cx="1264.19" cy="409.5" r="4" fill="#FF0A84"/>
<circle cx="1277.68" cy="412.1" r="4" fill="#FF0A84"/>
<circle cx="1291.17" cy="413" r="4" fill="#FF0A84"/>
<circle cx="1304.66" cy="413.6" r="4" fill="#FF0A84"/>
<circle cx="1318.14" cy="415.5" r="4" fill="#FF0A84"/>
<circle cx="1331.63" cy="421.5" r="4" fill="#FF0A84"/>
<circle cx="1345.12" cy="423.2" r="4" fill="#FF0A84"/>
<circle cx="1358.61" cy="425" r="4" fill="#FF0A84"/>
<circle cx="1372.1" cy="426.6" r="4" fill="#FF0A84"/>
<circle cx="1385.59" cy="428.3" r="4" fill="#FF0A84"/>
<circle cx="1399.08" cy="429.8" r="4" fill="#FF0A84"/>
<circle cx="1412.57" cy="431.2" r="4" fill="#FF0A84"/>
<circle cx="1426.06" cy="432.4" r="4" fill="#FF0A84"/>
<circle cx="1439.54" cy="433.2" r="4" fill="#FF0A84"/>
<circle cx="1453.03" cy="433.6" r="4" fill="#FF0A84"/>
<circle cx="1466.52" cy="433" r="4" fill="#FF0A84"/>
<circle cx="1480.01" cy="428.3" r="4" fill="#FF0A84"/>
<path d="M886.5,455.13 L891.6,463.93 L881.4,463.93 Z" fill="#008000"/>
<path d="M899.99,455.43 L905.09,464.23 L894.89,464.23 Z" fill="#008000"/>
<path d="M913.48,455.43 L918.58,464.23 L908.38,464.23 Z" fill="#008000"/>
<path d="M926.97,450.03 L932.07,458.83 L921.87,458.83 Z" fill="#008000"/>
<path d="M940.46,435.13 L945.56,443.93 L935.36,443.93 Z" fill="#008000"/>
<path d="M953.94,427.33 L959.04,436.13 L948.84,436.13 Z" fill="#008000"/>
<path d="M967.43,416.63 L972.53,425.43 L962.33,425.43 Z" fill="#008000"/>
<path d="M980.92,413.13 L986.02,421.93 L975.82,421.93 Z" fill="#008000"/>
<path d="M994.41,412.63 L999.51,421.43 L989.31,421.43 Z" fill="#008000"/>
<path d="M1007.9,417.13 L1013,425.93 L1002.8,425.93 Z" fill="#008000"/>
<path d="M1021.39,424.63 L1026.49,433.43 L1016.29,433.43 Z" fill="#008000"/>
<path d="M1034.88,427.13 L1039.98,435.93 L1029.78,435.93 Z" fill="#008000"/>
<path d="M1048.37,425.13 L1053.47,433.93 L1043.27,433.93 Z" fill="#008000"/>
<path d="M1061.86,428.13 L1066.96,436.93 L1056.76,436.93 Z" fill="#008000"/>
<path d="M1075.34,431.13 L1080.44,439.93 L1070.24,439.93 Z" fill="#008000"/>
<path d="M1088.83,433.33 L1093.93,442.13 L1083.73,442.13 Z" fill="#008000"/>
<path d="M1102.32,435.53 L1107.42,444.33 L1097.22,444.33 Z" fill="#008000"/>
<path d="M1115.81,437.23 L1120.91,446.03 L1110.71,446.03 Z" fill="#008000"/>
<path d="M1129.3,439.13 L1134.4,447.93 L1124.2,447.93 Z" fill="#008000"/>
<path d="M1142.79,440.63 L1147.89,449.43 L1137.69,449.43 Z" fill="#008000"/>
<path d="M1156.28,442.13 L1161.38,450.93 L1151.18,450.93 Z" fill="#008000"/>
<path d="M1169.77,443.93 L1174.87,452.73 L1164.67,452.73 Z" fill="#008000"/>
<path d="M1183.26,445.03 L1188.36,453.83 L1178.16,453.83 Z" fill="#008000"/>
<path d="M1196.74,445.83 L1201.84,454.63 L1191.64,454.63 Z" fill="#008000"/>
<path d="M1210.23,446.53 L1215.33,455.33 L1205.13,455.33 Z" fill="#008000"/>
<path d="M1223.72,447.53 L1228.82,456.33 L1218.62,456.33 Z" fill="#008000"/>
<path d="M1237.21,448.73 L1242.31,457.53 L1232.11,457.53 Z" fill="#008000"/>
<path d="M1250.7,449.03 L1255.8,457.83 L1245.6,457.83 Z" fill="#008000"/>
<path d="M1264.19,449.73 L1269.29,458.53 L1259.09,458.53 Z" fill="#008000"/>
<path d="M1277.68,450.63 L1282.78,459.43 L1272.58,459.43 Z" fill="#008000"/>
<path d="M1291.17,450.93 L1296.27,459.73 L1286.07,459.73 Z" fill="#008000"/>
<path d="M1304.66,451.33 L1309.76,460.13 L1299.56,460.13 Z" fill="#008000"/>
<path d="M1318.14,451.63 L1323.24,460.43 L1313.04,460.43 Z" fill="#008000"/>
<path d="M1331.63,451.93 L1336.73,460.73 L1326.53,460.73 Z" fill="#008000"/>
<path d="M1345.12,452.43 L1350.22,461.23 L1340.02,461.23 Z" fill="#008000"/>
<path d="M1358.61,452.63 L1363.71,461.43 L1353.51,461.43 Z" fill="#008000"/>
<path d="M1372.1,452.83 L1377.2,461.63 L1367,461.63 Z" fill="#008000"/>
<path d="M1385.59,452.93 L1390.69,461.73 L1380.49,461.73 Z" fill="#008000"/>
<path d="M1399.08,453.03 L1404.18,461.83 L1393.98,461.83 Z" fill="#008000"/>
<path d="M1412.57,453.13 L1417.67,461.93 L1407.47,461.93 Z" fill="#008000"/>
<path d="M1426.06,453.23 L1431.16,462.03 L1420.96,462.03 Z" fill="#008000"/>
<path d="M1439.54,453.13 L1444.64,461.93 L1434.44,461.93 Z" fill="#008000"/>
<path d="M1453.03,452.93 L1458.13,461.73 L1447.93,461.73 Z" fill="#008000"/>
<path d="M1466.52,452.43 L1471.62,461.23 L1461.42,461.23 Z" fill="#008000"/>
</g>
<rect x="886.5" y="38.75" width="607" height="446.3" fill="none" stroke="#000" stroke-width="2"/><path d="M1021.39,485.05 v-10.0M1156.28,485.05 v-10.0M1291.17,485.05 v-10.0M1426.06,485.05 v-10.0M953.94,485.05 v-5.4M1088.83,485.05 v-5.4M1223.72,485.05 v-5.4M1358.61,485.05 v-5.4M886.5,395.73 h10.0M886.5,306.46 h10.0M886.5,217.19 h10.0M886.5,127.92 h10.0M886.5,440.37 h5.4M886.5,351.1 h5.4M886.5,261.82 h5.4M886.5,172.56 h5.4M886.5,83.28 h5.4" fill="none" stroke="#000" stroke-width="2"/>
<text x="876.9" y="493" font-size="28.3" text-anchor="end">0.0</text>
<text x="876.9" y="403.73" font-size="28.3" text-anchor="end">0.2</text>
<text x="876.9" y="314.46" font-size="28.3" text-anchor="end">0.4</text>
<text x="876.9" y="225.19" font-size="28.3" text-anchor="end">0.6</text>
<text x="876.9" y="135.92" font-size="28.3" text-anchor="end">0.8</text>
<text x="876.9" y="46.65" font-size="28.3" text-anchor="end">1.0</text>
<text x="886.5" y="516.6" font-size="27.8" text-anchor="middle">0</text>
<text x="1021.39" y="516.6" font-size="27.8" text-anchor="middle">20000</text>
<text x="1156.28" y="516.6" font-size="27.8" text-anchor="middle">40000</text>
<text x="1291.17" y="516.6" font-size="27.8" text-anchor="middle">60000</text>
<text x="1426.06" y="516.6" font-size="27.8" text-anchor="middle">80000</text>
<text x="1187.5" y="556.9" font-size="35.5" text-anchor="middle">Time (s)</text>
<text transform="translate(814.2,268.8) rotate(-90)" font-size="34.3" word-spacing="1.7" text-anchor="middle">Current density (<tspan font-weight="normal" font-size="38" dx="-2.5">μ</tspan><tspan dx="-0.9">A cm</tspan><tspan font-size="20.5" dy="-19.4" dx="0.9">-2</tspan><tspan dy="19.4" dx="1.6">)</tspan></text>
<text x="789.7" y="20.0" font-size="25.8">(b)</text>
<path d="M1176,70.5 H1240.4" stroke="#2a2a7a" stroke-width="1.15" fill="none"/><rect x="1204.4" y="66.9" width="7.2" height="7.2" fill="#00009E"/><text transform="translate(1247.8,79.5) scale(1.072,1)" font-size="26.8">GA strip.[a]-CR_N</text><path d="M1176,106.9 H1240.4" stroke="#c8348a" stroke-width="1.15" fill="none"/><circle cx="1208" cy="106.9" r="4" fill="#FF0A84"/><text transform="translate(1247.8,115.9) scale(1.072,1)" font-size="26.8">GA strip.[b]-CR_N</text><path d="M1176,143.3 H1240.4" stroke="#2f882f" stroke-width="1.15" fill="none"/><path d="M1208,138.7 L1213.3,147.1 L1202.7,147.1 Z" fill="#008000"/><text transform="translate(1247.8,152.3) scale(1.072,1)" font-size="26.8">GA strip.[c]-CR_N</text>
</svg></body></html>
